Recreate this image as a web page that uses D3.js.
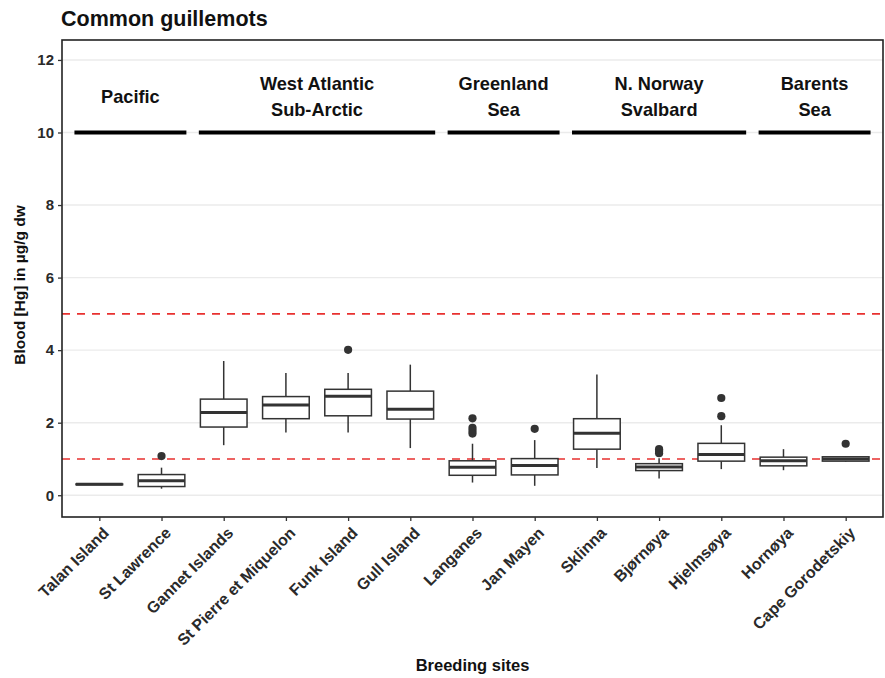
<!DOCTYPE html>
<html>
<head>
<meta charset="utf-8">
<script src="https://cdn.jsdelivr.net/npm/d3@7"></script>
<style>
  body { margin: 0; background: #fff; }
  svg { display: block; font-family: "Liberation Sans", Arial, sans-serif; }
</style>
</head>
<body>
<svg id="chart" width="885" height="678"></svg>
<script>
// Breeding sites, in plotting order
const sites = ["Talan Island", "St Lawrence", "Gannet Islands", "St Pierre et Miquelon",
  "Funk Island", "Gull Island", "Langanes", "Jan Mayen", "Sklinna", "Bjørnøya",
  "Hjelmsøya", "Hornøya", "Cape Gorodetskiy"];

// Box statistics (µg/g dw): lower whisker, Q1, median, Q3, upper whisker
const whiskerLow  = [0.28, 0.18, 1.38, 1.73, 1.73, 1.30, 0.35, 0.26, 0.75, 0.46, 0.72, 0.69, 0.92];
const q1          = [0.29, 0.24, 1.88, 2.11, 2.19, 2.10, 0.55, 0.56, 1.27, 0.68, 0.94, 0.81, 0.94];
const median      = [0.30, 0.40, 2.28, 2.49, 2.73, 2.37, 0.77, 0.82, 1.71, 0.78, 1.12, 0.95, 1.00];
const q3          = [0.31, 0.57, 2.65, 2.72, 2.92, 2.87, 0.95, 1.01, 2.11, 0.87, 1.43, 1.05, 1.06];
const whiskerHigh = [0.32, 0.76, 3.70, 3.37, 3.37, 3.60, 1.42, 1.52, 3.33, 1.02, 1.93, 1.27, 1.07];
const outliers    = [[], [1.08], [], [], [4.01], [], [2.12, 1.86, 1.78, 1.70], [1.83], [],
  [1.27, 1.22, 1.16], [2.68, 2.18], [], [1.42]];

// Regional groupings drawn above the boxes
const regionNames = [["Pacific"], ["West Atlantic", "Sub-Arctic"], ["Greenland", "Sea"],
  ["N. Norway", "Svalbard"], ["Barents", "Sea"]];
const regionFirst = ["Talan Island", "Gannet Islands", "Langanes", "Sklinna", "Hornøya"];
const regionLast  = ["St Lawrence", "Gull Island", "Jan Mayen", "Hjelmsøya", "Cape Gorodetskiy"];
const regionLineLevel = 10;
const regionLabelLevel = 11;

// Reference thresholds (dashed)
const thresholds = [5, 1];
const yTicks = [0, 2, 4, 6, 8, 10, 12];

const svg = d3.select("#chart");
const m = { left: 62, right: 2, top: 40, bottom: 161 };
const W = 885, H = 678;
const pw = W - m.left - m.right, ph = H - m.top - m.bottom;

const x = d3.scalePoint().domain(sites).range([0, pw]).padding(0.6);
const step = x.step();
const y = d3.scaleLinear().domain([-0.6, 12.55]).range([ph, 0]);

// Title
svg.append("text").attr("x", 61).attr("y", 26)
  .attr("font-size", 21.5).attr("font-weight", "bold").attr("fill", "#111")
  .text("Common guillemots");

const g = svg.append("g").attr("transform", `translate(${m.left},${m.top})`);

// Horizontal grid
g.selectAll("line.grid").data(yTicks).join("line")
  .attr("x1", 0).attr("x2", pw)
  .attr("y1", d => y(d)).attr("y2", d => y(d))
  .attr("stroke", "#ebebeb").attr("stroke-width", 1.4);

// Threshold lines
g.selectAll("line.thr").data(thresholds).join("line")
  .attr("x1", 0).attr("x2", pw)
  .attr("y1", d => y(d)).attr("y2", d => y(d))
  .attr("stroke", "#e8312f").attr("stroke-width", 1.6)
  .attr("stroke-dasharray", "8,7");

// Region bars and labels
regionNames.forEach((lines, i) => {
  const x0 = x(regionFirst[i]) - 0.4 * step;
  const x1 = x(regionLast[i]) + 0.4 * step;
  g.append("line")
    .attr("x1", x0).attr("x2", x1)
    .attr("y1", y(regionLineLevel)).attr("y2", y(regionLineLevel))
    .attr("stroke", "#000").attr("stroke-width", 4);
  const cx = (x0 + x1) / 2;
  const lh = 26;
  const t = g.append("text").attr("text-anchor", "middle")
    .attr("font-size", 18.2).attr("font-weight", "bold").attr("fill", "#111");
  lines.forEach((s, k) => {
    t.append("tspan").attr("x", cx)
      .attr("y", y(regionLabelLevel) + (k - (lines.length - 1) / 2) * lh + 7)
      .text(s);
  });
});

// Boxplots
const bw = 0.75 * step;
const stroke = "#333";
sites.forEach((s, i) => {
  const cx = x(s);
  const b = g.append("g");
  b.append("line").attr("x1", cx).attr("x2", cx)
    .attr("y1", y(whiskerHigh[i])).attr("y2", y(q3[i]))
    .attr("stroke", stroke).attr("stroke-width", 1.5);
  b.append("line").attr("x1", cx).attr("x2", cx)
    .attr("y1", y(q1[i])).attr("y2", y(whiskerLow[i]))
    .attr("stroke", stroke).attr("stroke-width", 1.5);
  b.append("rect").attr("x", cx - bw / 2).attr("width", bw)
    .attr("y", y(q3[i])).attr("height", Math.max(0.01, y(q1[i]) - y(q3[i])))
    .attr("fill", "#fff").attr("stroke", stroke).attr("stroke-width", 1.5);
  b.append("line").attr("x1", cx - bw / 2).attr("x2", cx + bw / 2)
    .attr("y1", y(median[i])).attr("y2", y(median[i]))
    .attr("stroke", stroke).attr("stroke-width", 3);
  b.selectAll("circle").data(outliers[i]).join("circle")
    .attr("cx", cx).attr("cy", d => y(d)).attr("r", 4.1)
    .attr("fill", stroke);
});

// Panel border
g.append("rect").attr("x", 0).attr("y", 0).attr("width", pw).attr("height", ph)
  .attr("fill", "none").attr("stroke", "#222").attr("stroke-width", 1.6);

// Y axis
const ya = g.append("g").call(d3.axisLeft(y).tickValues(yTicks).tickSize(4).tickPadding(4));
ya.select(".domain").remove();
ya.selectAll(".tick line").attr("stroke", "#333").attr("stroke-width", 1.3);
ya.selectAll(".tick text").attr("font-size", 15).attr("font-weight", "bold")
  .attr("fill", "#2a2a2a").attr("font-family", "Liberation Sans, Arial, sans-serif");

// X axis
const xa = g.append("g").attr("transform", `translate(0,${ph})`)
  .call(d3.axisBottom(x).tickSize(4));
xa.select(".domain").remove();
xa.selectAll(".tick line").attr("stroke", "#333").attr("stroke-width", 1.3);
xa.selectAll(".tick text")
  .attr("font-size", 16).attr("font-weight", "bold").attr("fill", "#2a2a2a")
  .attr("font-family", "Liberation Sans, Arial, sans-serif")
  .attr("text-anchor", "end")
  .attr("y", 0).attr("dy", 0)
  .attr("transform", "translate(10,17) rotate(-45)");

// Axis titles
svg.append("text").attr("x", m.left + pw / 2).attr("y", 671)
  .attr("text-anchor", "middle").attr("font-size", 16.5).attr("font-weight", "bold")
  .attr("fill", "#111").text("Breeding sites");
svg.append("text").attr("transform", "translate(25,285) rotate(-90)")
  .attr("text-anchor", "middle").attr("font-size", 15.5).attr("font-weight", "bold")
  .attr("fill", "#111").text("Blood [Hg] in µg/g dw");
</script>
</body>
</html>
